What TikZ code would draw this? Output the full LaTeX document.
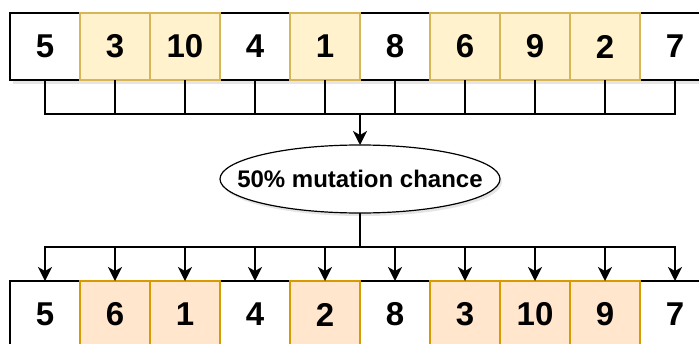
\documentclass[tikz,border=0pt]{standalone}
\usepackage{fontspec}
\setmainfont{Liberation Sans}
\usetikzlibrary{arrows.meta}
\definecolor{yelfill}{HTML}{FFF2CC}
\definecolor{yeldraw}{HTML}{D6B656}
\definecolor{orfill}{HTML}{FFE6CC}
\definecolor{ordraw}{HTML}{D79B00}
\begin{document}
\begin{tikzpicture}[x=1pt,y=-1pt,
  cell/.style={draw=black, line width=1.2pt, fill=white, minimum width=70pt,
    minimum height=67pt, inner sep=0pt, outer sep=0pt,
    font=\fontsize{33}{33}\selectfont\bfseries},
  keep/.style={cell, fill=yelfill, draw=yeldraw},
  swap/.style={cell, fill=orfill, draw=ordraw},
  softshadow/.style={fill=black, opacity=0.10},
  wire/.style={line width=1.5pt, draw=black},
  tip/.style={wire, -{Stealth[length=14pt, width=14pt, inset=4pt]}},
  ovalline/.style={draw=black, line width=1.2pt, fill=white},
  ovaltext/.style={minimum width=280pt, minimum height=68pt, inner sep=0pt,
    outer sep=0pt, font=\fontsize{24}{24}\selectfont\bfseries}]
\useasboundingbox (0,0) rectangle (699,343);
\clip (0,0) rectangle (699,343);

% soft shadows under both rows and the oval
\fill[softshadow] (13,16) rectangle (713,84);
\fill[softshadow] (13,284) rectangle (713,352);
\fill[softshadow] (362,182) ellipse[x radius=140pt, y radius=34pt];

% parent row
\node[cell] (t1)  at (45,46.5)  {5};
\node[cell] (t4)  at (255,46.5) {4};
\node[cell] (t6)  at (395,46.5) {8};
\node[cell] (t10) at (675,46.5) {7};
\node[keep] (t2)  at (115,46.5) {3};
\node[keep] (t3)  at (185,46.5) {10};
\node[keep] (t5)  at (325,46.5) {1};
\node[keep] (t7)  at (465,46.5) {6};
\node[keep] (t8)  at (535,46.5) {9};
\node[keep] (t9)  at (605,46.5) {2};

% mutated row
\node[cell] (m1)  at (45,314.5)  {5};
\node[cell] (m4)  at (255,314.5) {4};
\node[cell] (m6)  at (395,314.5) {8};
\node[cell] (m10) at (675,314.5) {7};
\node[swap] (m2)  at (115,314.5) {6};
\node[swap] (m3)  at (185,314.5) {1};
\node[swap] (m5)  at (325,314.5) {2};
\node[swap] (m7)  at (465,314.5) {3};
\node[swap] (m8)  at (535,314.5) {10};
\node[swap] (m9)  at (605,314.5) {9};

% mutation step: oval outline with its label box on top
\draw[ovalline] (360,179) ellipse[x radius=140pt, y radius=34pt];
\node[ovaltext] (mut) at (360,179) {50\% mutation chance};

\coordinate (join) at (360,114);
\coordinate (split) at (360,247);

\foreach \i in {1,...,10} {
  \draw[wire] (t\i.south) |- (join);
  \draw[tip] (split) -| (m\i.north);
}
\draw[tip] (join) -- (mut.north);
\draw[wire] (mut.south) -- (split);
\end{tikzpicture}
\end{document}
